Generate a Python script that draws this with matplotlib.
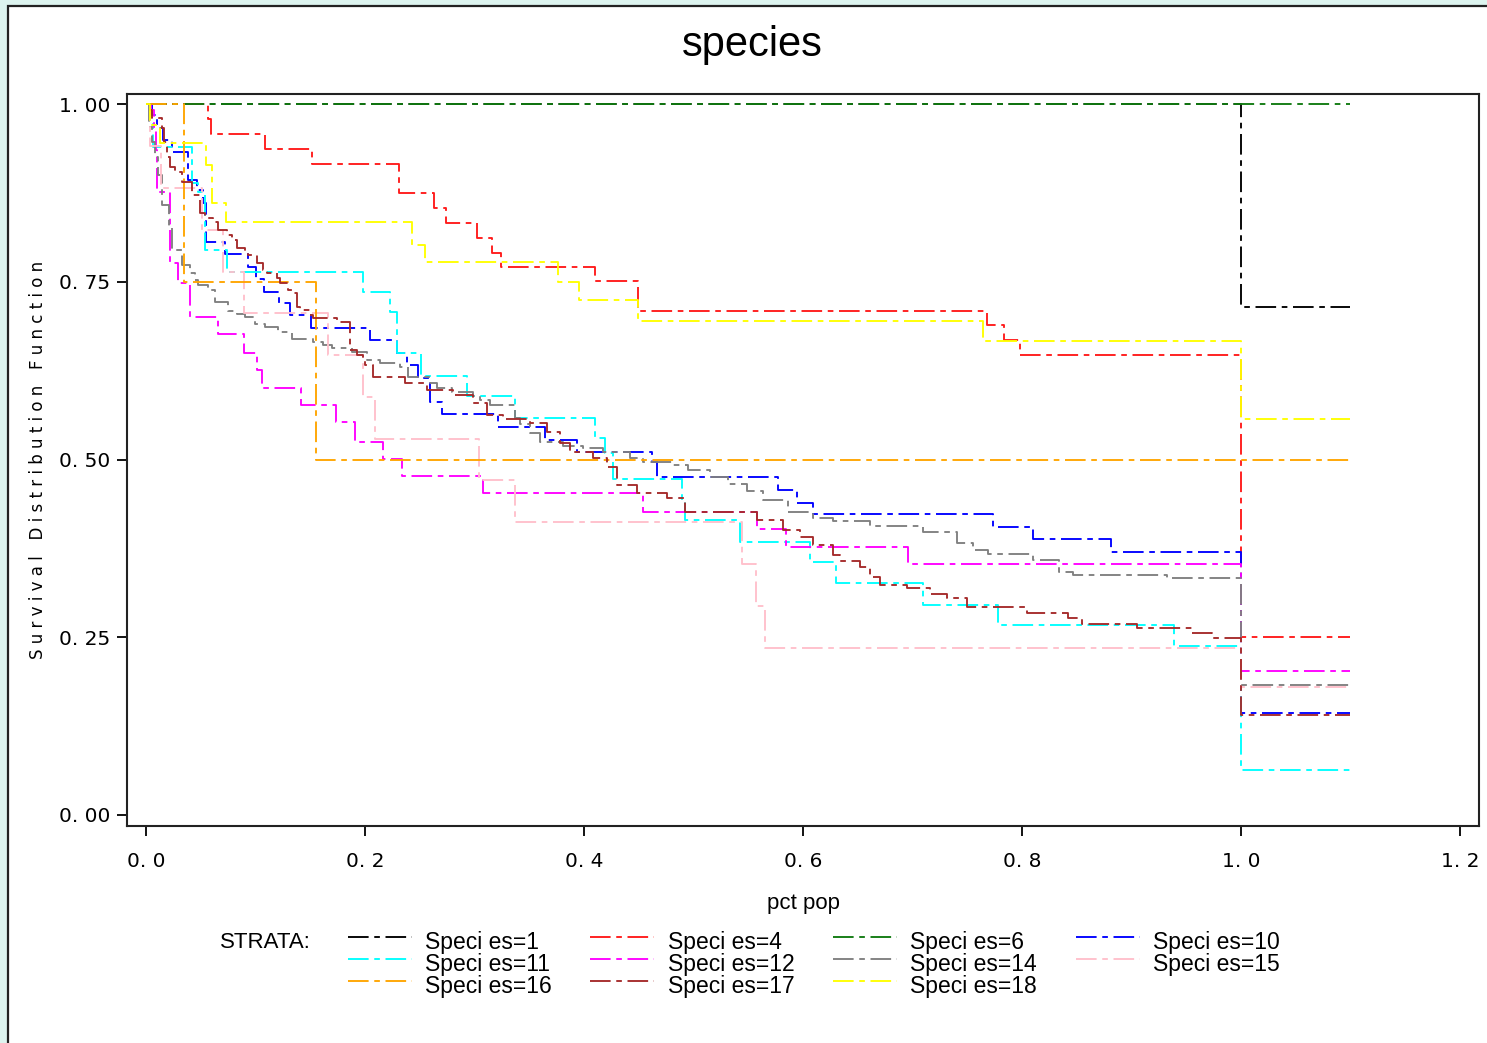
import matplotlib
matplotlib.use("Agg")
import matplotlib.pyplot as plt
from matplotlib.lines import Line2D
from matplotlib.patches import Rectangle

# ---------------- data ----------------
strata = ["Speci es=1", "Speci es=4", "Speci es=6", "Speci es=10",
          "Speci es=11", "Speci es=12", "Speci es=14", "Speci es=15",
          "Speci es=16", "Speci es=17", "Speci es=18"]

# event times (drops) and survival after each drop
t_s1 = [1.0]
s_s1 = [0.714]

t_s4 = [0.057, 0.059, 0.109, 0.152, 0.231, 0.263, 0.274, 0.302, 0.316, 0.324,
        0.410, 0.449, 0.768, 0.784, 0.798, 1.0]
s_s4 = [0.979, 0.958, 0.937, 0.916, 0.875, 0.854, 0.833, 0.812, 0.791, 0.771,
        0.751, 0.709, 0.689, 0.668, 0.647, 0.25]

t_s6 = []
s_s6 = []

t_s10 = [0.0055, 0.010, 0.0155, 0.0237, 0.0384, 0.0466, 0.052, 0.0548, 0.0721,
         0.0932, 0.1005, 0.1078, 0.1215, 0.1315, 0.1507, 0.2046, 0.2292, 0.2384,
         0.2484, 0.2594, 0.2703, 0.3215, 0.3644, 0.3936, 0.4621, 0.4667, 0.5772,
         0.5945, 0.6091, 0.7735, 0.810, 0.8813, 1.0]
s_s10 = [0.985, 0.966, 0.949, 0.933, 0.893, 0.879, 0.861, 0.806, 0.789,
         0.771, 0.754, 0.736, 0.720, 0.703, 0.685, 0.668, 0.650, 0.633,
         0.615, 0.581, 0.564, 0.546, 0.527, 0.511, 0.496, 0.475, 0.457,
         0.439, 0.423, 0.405, 0.388, 0.370, 0.143]

t_s11 = [0.0037, 0.0064, 0.042, 0.0475, 0.0539, 0.074, 0.1982, 0.2228, 0.2292,
         0.2511, 0.2932, 0.337, 0.410, 0.4192, 0.4265, 0.4895, 0.4922, 0.5425,
         0.6064, 0.6301, 0.7096, 0.7781, 0.9388, 1.0]
s_s11 = [0.977, 0.940, 0.889, 0.876, 0.795, 0.764, 0.736, 0.707, 0.650,
         0.617, 0.589, 0.558, 0.530, 0.509, 0.473, 0.443, 0.415, 0.384,
         0.356, 0.326, 0.295, 0.267, 0.238, 0.063]

t_s12 = [0.0046, 0.0073, 0.0091, 0.010, 0.0219, 0.0292, 0.0402, 0.0658, 0.0895,
         0.1014, 0.1059, 0.1416, 0.1735, 0.1909, 0.2164, 0.2338, 0.3078, 0.4539,
         0.558, 0.5845, 0.6959, 1.0]
s_s12 = [0.992, 0.963, 0.935, 0.876, 0.776, 0.748, 0.700, 0.677, 0.650,
         0.626, 0.601, 0.577, 0.553, 0.525, 0.501, 0.477, 0.453, 0.426,
         0.402, 0.377, 0.353, 0.2025]

t_s14 = [0.0027, 0.0055, 0.0082, 0.011, 0.0146, 0.021, 0.0237, 0.0329, 0.0402,
         0.0447, 0.0475, 0.0566, 0.063, 0.0749, 0.0831, 0.0904, 0.0995, 0.1087,
         0.1205, 0.1333, 0.1525, 0.1616, 0.1699, 0.1881, 0.2018, 0.2137, 0.232,
         0.2393, 0.2594, 0.2658, 0.2795, 0.2986, 0.305, 0.3142, 0.337, 0.3416,
         0.3507, 0.3598, 0.3808, 0.3991, 0.4174, 0.442, 0.4539, 0.4813, 0.495,
         0.5151, 0.5315, 0.5489, 0.5635, 0.5863, 0.6091, 0.6274, 0.6612, 0.7096,
         0.7406, 0.7553, 0.7689, 0.810, 0.8338, 0.8466, 0.9324, 1.0]
s_s14 = [0.968, 0.947, 0.925, 0.900, 0.858, 0.826, 0.795, 0.774, 0.762,
         0.752, 0.745, 0.738, 0.722, 0.709, 0.705, 0.700, 0.691, 0.686,
         0.679, 0.669, 0.665, 0.661, 0.657, 0.651, 0.640, 0.636, 0.630,
         0.616, 0.608, 0.601, 0.595, 0.589, 0.584, 0.577, 0.558, 0.550,
         0.537, 0.525, 0.519, 0.516, 0.511, 0.502, 0.497, 0.492, 0.485,
         0.475, 0.466, 0.456, 0.443, 0.426, 0.418, 0.414, 0.407, 0.398,
         0.383, 0.373, 0.367, 0.359, 0.342, 0.338, 0.333, 0.183]

t_s15 = [0.0037, 0.0137, 0.0511, 0.0703, 0.0895, 0.1662, 0.1982, 0.2091, 0.3041,
         0.337, 0.5443, 0.5571, 0.5653, 1.0]
s_s15 = [0.941, 0.882, 0.823, 0.764, 0.706, 0.647, 0.588, 0.529, 0.471,
         0.412, 0.353, 0.294, 0.235, 0.180]

t_s16 = [0.035, 0.155]
s_s16 = [0.75, 0.50]

t_s17 = [0.0037, 0.0055, 0.0146, 0.0164, 0.0192, 0.0219, 0.0265, 0.0329, 0.042,
         0.0493, 0.0539, 0.0612, 0.0658, 0.074, 0.0785, 0.0831, 0.0904, 0.0932,
         0.1014, 0.1068, 0.1105, 0.1196, 0.1224, 0.1297, 0.1342, 0.1379, 0.1406,
         0.1498, 0.1525, 0.1744, 0.1863, 0.1927, 0.1982, 0.200, 0.2073, 0.2365,
         0.2566, 0.2804, 0.2986, 0.3114, 0.326, 0.3507, 0.3662, 0.3781, 0.3872,
         0.4082, 0.421, 0.4301, 0.4484, 0.4758, 0.4922, 0.558, 0.5817, 0.5973,
         0.6091, 0.6274, 0.6338, 0.6521, 0.6612, 0.6703, 0.695, 0.716, 0.7315,
         0.7498, 0.8046, 0.842, 0.8548, 0.905, 0.9553, 0.9735, 1.0]
s_s17 = [0.992, 0.980, 0.966, 0.947, 0.925, 0.911, 0.904, 0.890, 0.872,
         0.847, 0.840, 0.834, 0.823, 0.816, 0.809, 0.797, 0.792, 0.788,
         0.776, 0.767, 0.762, 0.755, 0.748, 0.738, 0.734, 0.715, 0.710,
         0.703, 0.699, 0.693, 0.654, 0.647, 0.640, 0.633, 0.616, 0.608,
         0.598, 0.591, 0.579, 0.563, 0.557, 0.551, 0.539, 0.523, 0.511,
         0.502, 0.490, 0.464, 0.453, 0.446, 0.426, 0.415, 0.401, 0.391,
         0.380, 0.366, 0.357, 0.349, 0.335, 0.324, 0.319, 0.311, 0.305,
         0.293, 0.284, 0.277, 0.269, 0.263, 0.256, 0.249, 0.141]

t_s18 = [0.004, 0.013, 0.055, 0.060, 0.073, 0.243, 0.255, 0.376, 0.395, 0.449,
         0.764, 1.0]
s_s18 = [0.970, 0.945, 0.914, 0.861, 0.834, 0.802, 0.778, 0.750, 0.724, 0.695,
         0.667, 0.557]

x_end = 1.1

series_times = [t_s1, t_s4, t_s6, t_s10, t_s11, t_s12, t_s14, t_s15, t_s16, t_s17, t_s18]
series_surv = [s_s1, s_s4, s_s6, s_s10, s_s11, s_s12, s_s14, s_s15, s_s16, s_s17, s_s18]
colors = ["black", "#ff1a1a", "#117a11", "#0000ff", "#00ffff", "#ff00ff",
          "#808080", "#ffc0cb", "#ffa500", "#a52a2a", "#ffff00"]

xticks = [0.0, 0.2, 0.4, 0.6, 0.8, 1.0, 1.2]
xticklabels = ["0. 0", "0. 2", "0. 4", "0. 6", "0. 8", "1. 0", "1. 2"]
yticks = [0.0, 0.25, 0.5, 0.75, 1.0]
yticklabels = ["0. 00", "0. 25", "0. 50", "0. 75", "1. 00"]

# ---------------- figure ----------------
W, H = 1487, 1043
fig = plt.figure(figsize=(W / 100, H / 100), dpi=100)
fig.patch.set_facecolor("#ddf4ef")
fig.add_artist(Rectangle((8 / W, -0.01), 1.0, 1 - 6 / H + 0.01, transform=fig.transFigure,
                         facecolor="white", edgecolor="#222222", linewidth=1.6, zorder=0))

narrow = ["Liberation Sans Narrow", "Liberation Sans", "DejaVu Sans"]

ax = fig.add_axes([127 / W, 1 - 826 / H, (1479 - 127) / W, (826 - 94) / H])
ax.set_xlim(-0.01735, 1.2174)
ax.set_ylim(-0.0155, 1.0141)

dash = (0, (11, 3, 3, 3))
for t, s, c in zip(series_times, series_surv, colors):
    xs = [0.0] + list(t) + [x_end]
    ys = [1.0] + list(s) + [s[-1] if s else 1.0]
    ax.step(xs, ys, where="post", color=c, linewidth=1.35, linestyle=dash)

ax.set_xticks(xticks)
ax.set_xticklabels(xticklabels, fontsize=14.5, family="DejaVu Sans")
ax.set_yticks(yticks)
ax.set_yticklabels(yticklabels, fontsize=14.5, family="DejaVu Sans")
ax.tick_params(direction="out", length=7, width=1.3, pad=12)
ax.tick_params(axis="y", pad=5)
for sp in ax.spines.values():
    sp.set_linewidth(1.5)
    sp.set_color("#222222")

fig.text(752 / W, 1 - 45 / H, "species", ha="center", va="center",
         fontsize=30, family=narrow)
fig.text(803 / W, 1 - 904 / H, "pct pop", ha="center", va="center",
         fontsize=16, family=narrow)
fig.text(38 / W, 1 - 460 / H,
         "S u r v i v a l   D i s t r i b u t i o n   F u n c t i o n",
         rotation=90, ha="center", va="center", fontsize=12, family="DejaVu Sans")

# ---------------- legend ----------------
fig.text(220 / W, 1 - 943 / H, "STRATA:", ha="left", va="center",
         fontsize=16, family=narrow)
col_line_x = [348, 590, 833, 1076]
col_text_x = [425, 668, 910, 1153]
row_line_y = [937, 959, 981]
row_text_y = [943, 964, 986]
for i, (lab, c) in enumerate(zip(strata, colors)):
    r, k = divmod(i, 4)
    x0 = col_line_x[k]
    yl = 1 - row_line_y[r] / H
    fig.add_artist(Line2D([x0 / W, (x0 + 64) / W], [yl, yl], transform=fig.transFigure,
                          color=c, linewidth=1.35, linestyle=dash))
    fig.text(col_text_x[k] / W, 1 - row_text_y[r] / H, lab, ha="left", va="center",
             fontsize=16.5, family=narrow)

fig.savefig("out.png", dpi=100, facecolor=fig.get_facecolor())
